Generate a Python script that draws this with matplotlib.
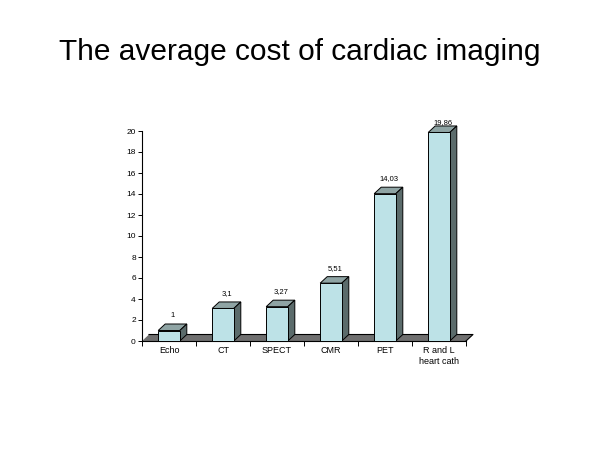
import matplotlib
matplotlib.use("Agg")
import matplotlib.pyplot as plt
from matplotlib.patches import Polygon

plt.rcParams['font.family'] = ['Liberation Sans', 'DejaVu Sans']

categories = ["Echo", "CT", "SPECT", "CMR", "PET", "R and L\nheart cath"]
costs = [1, 3.1, 3.27, 5.51, 14.03, 19.86]
cost_labels = ["1", "3,1", "3,27", "5,51", "14,03", "19,86"]
yticks = [0, 2, 4, 6, 8, 10, 12, 14, 16, 18, 20]

front_col = "#bde2e7"
top_col = "#8fa4a4"
side_col = "#5b6b6b"
floor_col = "#6f6f6f"

fig = plt.figure(figsize=(6, 4.5), dpi=100)
fig.text(0.5, 1 - 59.5 / 450, "The average cost of cardiac imaging", ha="center",
         va="baseline", fontsize=21.5)

# axes placed so 0..6 spans x 142..466 px, 0..20 spans y 341..131 px
ax = fig.add_axes([142 / 600, 109 / 450, 324 / 600, 210 / 450])
ax.set_xlim(0, 6)
ax.set_ylim(0, 20)

# depth offset of the fake 3d look, in data units
px_y = 210 / 20
dx = 7 / 54
dy = 6.5 / px_y
w = 0.4

# floor
floor = Polygon([(0, 0), (6, 0), (6 + dx, dy), (dx, dy)], closed=True,
                facecolor=floor_col, edgecolor="none", clip_on=False, zorder=1)
ax.add_patch(floor)
ax.plot([dx, 6 + dx, 6], [dy, dy, 0], color="black", lw=0.8, clip_on=False, zorder=1.5)

x = [i + 0.5 for i in range(len(categories))]
ax.bar(x, costs, width=w, color=front_col, edgecolor="black", linewidth=0.7,
       zorder=3, clip_on=False)
for xi, v, lab in zip(x, costs, cost_labels):
    l, r = xi - w / 2, xi + w / 2
    top = Polygon([(l, v), (r, v), (r + dx, v + dy), (l + dx, v + dy)], closed=True,
                  facecolor=top_col, edgecolor="black", lw=0.7, zorder=2.5, clip_on=False)
    side = Polygon([(r, 0), (r + dx, dy), (r + dx, v + dy), (r, v)], closed=True,
                   facecolor=side_col, edgecolor="black", lw=0.7, zorder=2.5, clip_on=False)
    ax.add_patch(top)
    ax.add_patch(side)
    ly = min(v + dy + 8.5 / px_y, 20.8)
    ax.text(xi + 4 / 54, ly, lab, ha="center", va="center", fontsize=5.5, zorder=4)

for s in ["top", "right"]:
    ax.spines[s].set_visible(False)
ax.spines["left"].set_linewidth(0.8)
ax.spines["bottom"].set_visible(False)

ax.set_yticks(yticks)
ax.set_yticklabels([str(t) for t in yticks], fontsize=6)
ax.tick_params(axis="y", length=3, width=0.7, pad=1.5)

# category labels centered, tick marks at boundaries
ax.set_xticks(range(0, 7))
ax.set_xticklabels([])
ax.tick_params(axis="x", length=3.5, width=0.7)
ax.set_xticks(x, minor=True)
ax.set_xticklabels(categories, minor=True, fontsize=6.5, linespacing=1.25)
ax.tick_params(axis="x", which="minor", length=0, pad=3.5)
ax.axhline(0, color="black", lw=0.8, clip_on=False, zorder=2)

fig.savefig("out.png", dpi=100)
